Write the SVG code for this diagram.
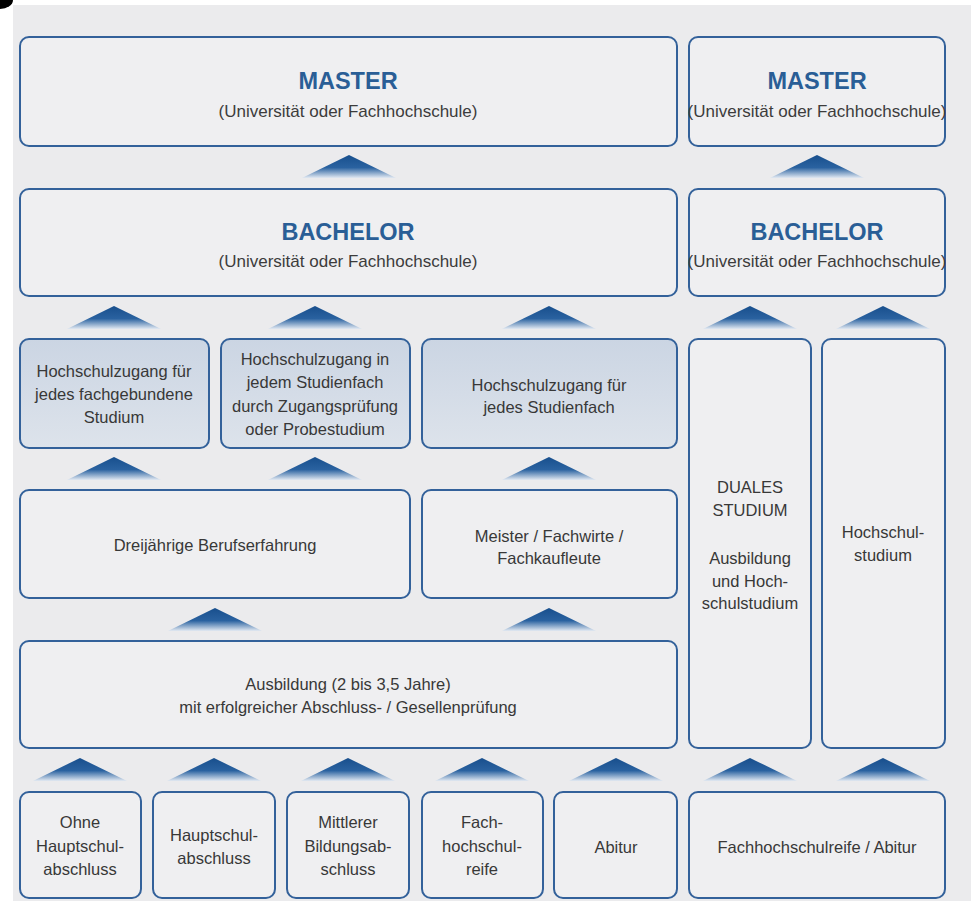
<svg xmlns="http://www.w3.org/2000/svg" width="971" height="901" viewBox="0 0 971 901">
<defs>
<linearGradient id="ag" x1="0" y1="0" x2="0" y2="1">
<stop offset="0" stop-color="#184f8d"/>
<stop offset="0.55" stop-color="#2a62a0"/>
<stop offset="1" stop-color="#e2e9f2"/>
</linearGradient>
<linearGradient id="sg" x1="0" y1="0" x2="0" y2="1">
<stop offset="0" stop-color="#cbd5e3"/>
<stop offset="1" stop-color="#dde3eb"/>
</linearGradient>
<path id="arr" d="M0,0 L47,23 L-47,23 Z"/>
</defs>
<style>
.b{fill:#efeff1;stroke:#33619a;stroke-width:2}
.s{fill:url(#sg);stroke:#33619a;stroke-width:2}
.h{font-family:"Liberation Sans",Arial,sans-serif;font-weight:bold;font-size:23.5px;fill:#2a5e96;text-anchor:middle}
.u{font-family:"Liberation Sans",Arial,sans-serif;font-size:17px;fill:#3c3c3c;text-anchor:middle}
.t{font-family:"Liberation Sans",Arial,sans-serif;font-size:16.5px;fill:#383838;text-anchor:middle}
.a{fill:url(#ag)}
</style>
<rect x="0" y="0" width="971" height="901" fill="#ffffff"/>
<rect x="13" y="5" width="958" height="896" fill="#ebebed"/>
<ellipse cx="0" cy="0" rx="13" ry="9" fill="#000"/>

<g id="connectors">
<use href="#arr" class="a" x="349" y="155"/>
<use href="#arr" class="a" x="817" y="155"/>
<use href="#arr" class="a" x="114" y="306"/>
<use href="#arr" class="a" x="315" y="306"/>
<use href="#arr" class="a" x="549" y="306"/>
<use href="#arr" class="a" x="750" y="306"/>
<use href="#arr" class="a" x="883" y="306"/>
<use href="#arr" class="a" x="114" y="457"/>
<use href="#arr" class="a" x="315" y="457"/>
<use href="#arr" class="a" x="549" y="457"/>
<use href="#arr" class="a" x="215" y="608"/>
<use href="#arr" class="a" x="549" y="608"/>
<use href="#arr" class="a" x="80" y="758"/>
<use href="#arr" class="a" x="214" y="758"/>
<use href="#arr" class="a" x="348" y="758"/>
<use href="#arr" class="a" x="482" y="758"/>
<use href="#arr" class="a" x="616" y="758"/>
<use href="#arr" class="a" x="750" y="758"/>
<use href="#arr" class="a" x="883" y="758"/>
</g>

<g id="master-left">
<rect class="b" x="20" y="37" width="657" height="109" rx="9"/>
<text class="h" x="348" y="89">MASTER</text>
<text class="u" x="348" y="117">(Universität oder Fachhochschule)</text>
</g>
<g id="master-right">
<rect class="b" x="689" y="37" width="256" height="109" rx="9"/>
<text class="h" x="817" y="89">MASTER</text>
<text class="u" x="817" y="117">(Universität oder Fachhochschule)</text>
</g>
<g id="bachelor-left">
<rect class="b" x="20" y="189" width="657" height="107" rx="9"/>
<text class="h" x="348" y="240">BACHELOR</text>
<text class="u" x="348" y="267">(Universität oder Fachhochschule)</text>
</g>
<g id="bachelor-right">
<rect class="b" x="689" y="189" width="256" height="107" rx="9"/>
<text class="h" x="817" y="240">BACHELOR</text>
<text class="u" x="817" y="267">(Universität oder Fachhochschule)</text>
</g>

<g id="zugang-fachgebunden">
<rect class="s" x="20" y="339" width="189" height="109" rx="9"/>
<text class="t" x="114" y="377">Hochschulzugang für</text>
<text class="t" x="114" y="400">jedes fachgebundene</text>
<text class="t" x="114" y="423">Studium</text>
</g>
<g id="zugang-pruefung">
<rect class="s" x="221" y="339" width="189" height="109" rx="9"/>
<text class="t" x="315" y="365">Hochschulzugang in</text>
<text class="t" x="315" y="388">jedem Studienfach</text>
<text class="t" x="315" y="412">durch Zugangsprüfung</text>
<text class="t" x="315" y="435">oder Probestudium</text>
</g>
<g id="zugang-jedes">
<rect class="s" x="422" y="339" width="255" height="109" rx="9"/>
<text class="t" x="549" y="391">Hochschulzugang für</text>
<text class="t" x="549" y="413">jedes Studienfach</text>
</g>

<g id="duales-studium">
<rect class="b" x="689" y="339" width="122" height="409" rx="9"/>
<text class="t" x="750" y="493">DUALES</text>
<text class="t" x="750" y="516">STUDIUM</text>
<text class="t" x="750" y="564">Ausbildung</text>
<text class="t" x="750" y="587">und Hoch-</text>
<text class="t" x="750" y="609">schulstudium</text>
</g>
<g id="hochschulstudium">
<rect class="b" x="822" y="339" width="123" height="409" rx="9"/>
<text class="t" x="883" y="538">Hochschul-</text>
<text class="t" x="883" y="561">studium</text>
</g>

<g id="berufserfahrung">
<rect class="b" x="20" y="490" width="390" height="108" rx="9"/>
<text class="t" x="215" y="551">Dreijährige Berufserfahrung</text>
</g>
<g id="meister">
<rect class="b" x="422" y="490" width="255" height="108" rx="9"/>
<text class="t" x="549" y="542">Meister / Fachwirte /</text>
<text class="t" x="549" y="564">Fachkaufleute</text>
</g>

<g id="ausbildung">
<rect class="b" x="20" y="641" width="657" height="107" rx="9"/>
<text class="t" x="348" y="690">Ausbildung (2 bis 3,5 Jahre)</text>
<text class="t" x="348" y="713">mit erfolgreicher Abschluss- / Gesellenprüfung</text>
</g>

<g id="ohne-hauptschulabschluss">
<rect class="b" x="20" y="792" width="121" height="106" rx="9"/>
<text class="t" x="80" y="828">Ohne</text>
<text class="t" x="80" y="852">Hauptschul-</text>
<text class="t" x="80" y="875">abschluss</text>
</g>
<g id="hauptschulabschluss">
<rect class="b" x="153" y="792" width="122" height="106" rx="9"/>
<text class="t" x="214" y="841">Hauptschul-</text>
<text class="t" x="214" y="864">abschluss</text>
</g>
<g id="mittlerer-abschluss">
<rect class="b" x="287" y="792" width="122" height="106" rx="9"/>
<text class="t" x="348" y="828">Mittlerer</text>
<text class="t" x="348" y="852">Bildungsab-</text>
<text class="t" x="348" y="875">schluss</text>
</g>
<g id="fachhochschulreife">
<rect class="b" x="422" y="792" width="121" height="106" rx="9"/>
<text class="t" x="482" y="828">Fach-</text>
<text class="t" x="482" y="852">hochschul-</text>
<text class="t" x="482" y="875">reife</text>
</g>
<g id="abitur">
<rect class="b" x="554" y="792" width="123" height="106" rx="9"/>
<text class="t" x="616" y="853">Abitur</text>
</g>
<g id="fhr-abitur">
<rect class="b" x="689" y="792" width="256" height="106" rx="9"/>
<text class="t" x="817" y="853">Fachhochschulreife / Abitur</text>
</g>
</svg>
